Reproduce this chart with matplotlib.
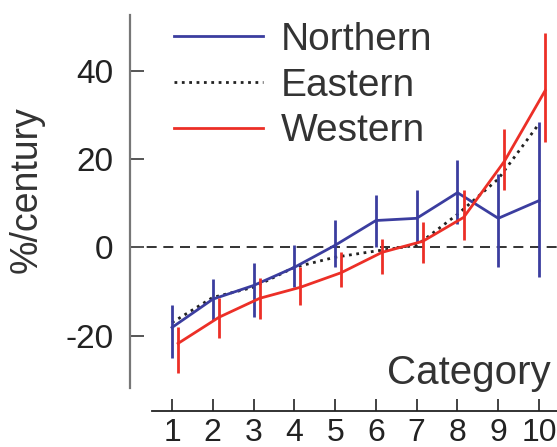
import numpy as np
import matplotlib.pyplot as plt

plt.rcParams['font.family'] = ['Liberation Sans', 'DejaVu Sans']
plt.rcParams['axes.unicode_minus'] = False

# data
category = np.arange(1, 11)

northern = [-18.1, -11.7, -8.6, -4.5, 0.5, 6.1, 6.6, 12.4, 6.6, 10.6]
northern_lo = [-24.9, -16.5, -15.8, -9.0, -4.5, 0.0, 0.9, 5.4, -4.5, -6.6]
northern_hi = [-13.1, -7.2, -3.6, 0.5, 6.3, 11.8, 12.9, 19.7, 16.7, 28.3]

eastern = [-17.0, -11.3, -9.0, -4.5, -2.2, -0.8, 0.5, 7.5, 15.5, 28.0]

western = [-21.7, -15.8, -11.5, -9.0, -5.7, -1.1, 1.4, 6.8, 19.5, 35.5]
western_lo = [-28.3, -20.4, -16.1, -13.1, -9.0, -5.9, -3.6, 1.6, 12.9, 23.8]
western_hi = [-18.1, -11.5, -7.0, -4.5, -1.1, 2.0, 5.7, 13.1, 26.9, 48.6]

blue = '#3b3d9f'
red = '#ec2f27'

fig = plt.figure(figsize=(5.57, 4.47), dpi=100)
ax = fig.add_axes([130 / 557, 36 / 447, 427 / 557, 396 / 447])

ax.axhline(0, color='#111111', lw=1.2, dashes=(6, 4), zorder=1)

n = np.array(northern)
eb_n = ax.errorbar(category, n, yerr=[n - northern_lo, np.array(northern_hi) - n],
                   color=blue, lw=2, elinewidth=2, capsize=0, zorder=3)
line_e, = ax.plot(category, eastern, color='#222222', lw=2, ls=':', zorder=2)
w = np.array(western)
eb_w = ax.errorbar(category + 0.15, w, yerr=[w - western_lo, np.array(western_hi) - w],
                   color=red, lw=2, elinewidth=2, capsize=0, zorder=4)

ax.set_xlim(-0.03, 10.44)
ax.set_ylim(-37.0, 52.6)

for s in ['top', 'right']:
    ax.spines[s].set_visible(False)
ax.spines['left'].set_bounds(-31.9, 52.6)
ax.spines['left'].set_color('#777777')
ax.spines['left'].set_linewidth(1.6)
ax.spines['bottom'].set_bounds(0.51, 10.44)
ax.spines['bottom'].set_color('#222222')
ax.spines['bottom'].set_linewidth(1.3)

ax.set_xticks(category)
ax.set_yticks([-20, 0, 20, 40])
ax.tick_params(axis='y', direction='in', length=10, width=1.4, color='#555555',
               labelsize=24, pad=12, labelcolor='#222222')
ax.tick_params(axis='x', direction='in', length=9, width=1.2, color='#222222',
               labelsize=23, pad=5, labelcolor='#222222')

ax.set_ylabel('%/century', fontsize=27, color='#333333')
ax.yaxis.set_label_coords(-0.2, 0.56)
ax.text(0.985, 0.095, 'Category', transform=ax.transAxes, ha='right', va='center',
        fontsize=29, color='#333333')

ax.legend([eb_n.lines[0], line_e, eb_w.lines[0]], ['Northern', 'Eastern', 'Western'],
          loc='upper left', bbox_to_anchor=(174 / 557, 1 - 22 / 447),
          bbox_transform=fig.transFigure, frameon=False, fontsize=28,
          handlelength=2.3, handletextpad=0.45, labelspacing=0.25,
          borderpad=0, borderaxespad=0, labelcolor='#333333')

fig.savefig('out.png', dpi=100)
